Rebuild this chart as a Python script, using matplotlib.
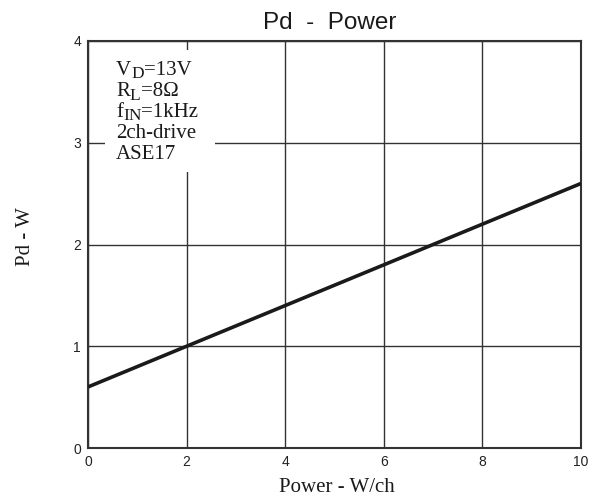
import matplotlib
matplotlib.use("Agg")
import matplotlib.pyplot as plt
from matplotlib.patches import Rectangle

power = [0, 2, 4, 6, 8, 10]
pd_w = [0.6, 1.0, 1.4, 1.8, 2.2, 2.6]
xticks = [0, 2, 4, 6, 8, 10]
yticks = [0, 1, 2, 3, 4]
# each note line: list of (text, is_subscript)
notes = [
    [("V", False), ("D", True), ("=13V", False)],
    [("R", False), ("L", True), ("=8Ω", False)],
    [("f", False), ("IN", True), ("=1kHz", False)],
    [("2ch-drive", False)],
    [("ASE17", False)],
]

W, H = 598, 499
fig = plt.figure(figsize=(W / 100, H / 100), dpi=100)
ax = fig.add_axes([88 / W, 1 - 448 / H, 493 / W, 407 / H])
ax.set_xlim(0, 10)
ax.set_ylim(0, 4)
ax.set_xticks(xticks)
ax.set_yticks(yticks)
ax.tick_params(length=0, labelsize=10, colors='#222222', pad=5)
for lbl in ax.get_xticklabels() + ax.get_yticklabels():
    lbl.set_family('Liberation Sans')
ax.grid(True, color='#333333', linewidth=1.0)
for s in ax.spines.values():
    s.set_color('#333333')
    s.set_linewidth(1.5)
ax.plot(power, pd_w, color='#1a1a1a', linewidth=2.6, zorder=4, solid_capstyle='butt')

fig.text(330 / W, 1 - 29 / H, "Pd  -  Power", fontfamily='Liberation Sans', fontsize=17.5,
         ha='center', va='baseline', color='#1a1a1a')
fig.text(336.5 / W, 1 - 492 / H, "Power - W/ch", fontfamily='Liberation Serif', fontsize=15,
         ha='center', va='baseline', color='#1a1a1a')
fig.text(25 / W, 1 - 237 / H, "Pd - W", fontfamily='Liberation Serif', fontsize=15,
         ha='center', va='center', rotation=90, color='#1a1a1a')

# white box behind annotation
ax.add_patch(Rectangle(((105 - 88) / 493, (448 - 172) / 407), 110 / 493, 122 / 407,
                       transform=ax.transAxes, facecolor='white', edgecolor='none', zorder=3))

fig.canvas.draw()
renderer = fig.canvas.get_renderer()
baseline0 = 75
step = 21
for i, line in enumerate(notes):
    x = 116.0
    yb = baseline0 + i * step
    for txt, sub in line:
        size = 12.5 if sub else 15
        y = yb + (3.5 if sub else 0)
        t = fig.text(x / W, 1 - y / H, txt, fontfamily='Liberation Serif', fontsize=size,
                     ha='left', va='baseline', color='#1a1a1a', zorder=6)
        x += t.get_window_extent(renderer).width

fig.savefig("out.png", dpi=100)
